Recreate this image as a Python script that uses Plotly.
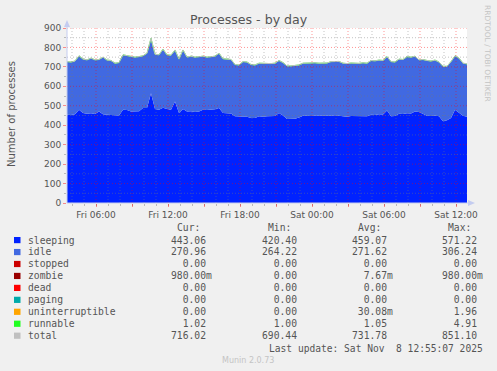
import plotly.graph_objects as go
from datetime import datetime, timedelta

# ---------------- data ----------------
start = datetime(2025, 11, 7, 3, 35)
times = [start + timedelta(minutes=20 * k) for k in range(101)]

sleeping = [454, 452, 456, 480, 463, 459, 462, 458, 471, 456,
            454, 452, 449, 450, 480, 478, 471, 470, 472, 488,
            488, 565, 483, 480, 490, 483, 480, 522, 463, 483,
            471, 472, 468, 471, 480, 478, 480, 482, 488, 463,
            462, 460, 446, 445, 446, 444, 437, 437, 446, 444,
            446, 445, 447, 463, 450, 432, 432, 433, 440, 449,
            449, 447, 450, 449, 448, 450, 449, 451, 449, 446,
            444, 447, 446, 445, 447, 446, 454, 453, 456, 455,
            476, 446, 447, 459, 458, 461, 460, 471, 468, 460,
            449, 448, 450, 446, 421, 426, 437, 480, 465, 449,
            443]

idle = [272, 272, 273, 276, 276, 276, 282, 277, 266, 293,
        280, 280, 269, 271, 281, 279, 281, 279, 280, 268,
        281, 277, 281, 281, 300, 278, 279, 264, 276, 302,
        278, 282, 281, 281, 274, 271, 271, 272, 281, 278,
        277, 277, 265, 264, 280, 280, 274, 272, 272, 273,
        273, 271, 271, 269, 271, 272, 272, 272, 269, 269,
        270, 270, 270, 269, 269, 269, 277, 274, 278, 272,
        272, 272, 272, 272, 273, 272, 278, 277, 278, 277,
        276, 280, 277, 280, 279, 290, 289, 283, 267, 277,
        283, 281, 284, 278, 281, 276, 289, 276, 279, 269,
        271]

runnable = [1, 1, 1, 1, 1, 1, 1, 1, 1, 1,
            1, 1, 1, 1, 1, 1, 1, 1, 1, 1,
            1, 5, 1, 1, 1, 1, 1, 1, 1, 2,
            1, 1, 1, 1, 1, 1, 1, 1, 1, 1,
            1, 1, 1, 1, 1, 1, 1, 1, 1, 1,
            1, 1, 1, 1, 1, 1, 1, 1, 1, 1,
            1, 1, 1, 1, 1, 1, 1, 1, 1, 1,
            1, 1, 1, 1, 1, 1, 1, 1, 1, 1,
            1, 1, 1, 1, 1, 2, 1, 1, 1, 1,
            1, 1, 1, 1, 1, 1, 1, 1, 1, 1,
            1]

total = [727, 725, 730, 757, 740, 736, 745, 736, 738, 750,
         735, 733, 719, 722, 762, 758, 753, 750, 753, 757,
         770, 847, 765, 762, 791, 762, 760, 787, 740, 787,
         750, 755, 750, 753, 755, 750, 752, 755, 770, 742,
         740, 738, 712, 710, 727, 725, 712, 710, 719, 718,
         720, 717, 719, 733, 722, 705, 705, 706, 710, 719,
         720, 718, 721, 719, 718, 720, 727, 726, 728, 719,
         717, 720, 719, 718, 721, 719, 733, 731, 735, 733,
         753, 727, 725, 740, 738, 753, 750, 755, 736, 738,
         733, 730, 735, 725, 703, 703, 727, 757, 745, 719,
         716]

legend_names = ["sleeping", "idle", "stopped", "zombie", "dead", "paging",
                "uninterruptible", "runnable", "total"]
legend_colors = ["#0022ff", "#4169e1", "#cc0000", "#990000", "#ff0000",
                 "#00aaaa", "#ffa500", "#22ff22", "#c0c0c0"]
cur_vals = ["443.06", "270.96", "  0.00", "980.00m", "  0.00", "  0.00", "  0.00", "  1.02", "716.02"]
min_vals = ["420.40", "264.22", "  0.00", "  0.00", "  0.00", "  0.00", "  0.00", "  1.00", "690.44"]
avg_vals = ["459.07", "271.62", "  0.00", "  7.67m", "  0.00", "  0.00", " 30.08m", "  1.05", "731.78"]
max_vals = ["571.22", "306.24", "  0.00", "980.00m", "  0.00", "  0.00", "  1.96", "  4.91", "851.10"]

x_ticks = ["2025-11-07 06:00", "2025-11-07 09:00", "2025-11-07 12:00", "2025-11-07 15:00",
           "2025-11-07 18:00", "2025-11-07 21:00", "2025-11-08 00:00", "2025-11-08 03:00",
           "2025-11-08 06:00", "2025-11-08 09:00", "2025-11-08 12:00"]
x_ticktext = ["Fri 06:00", "", "Fri 12:00", "", "Fri 18:00", "", "Sat 00:00", "",
              "Sat 06:00", "", "Sat 12:00"]
y_ticks = [0, 100, 200, 300, 400, 500, 600, 700, 800, 900]
y_minor = [50, 150, 250, 350, 450, 550, 650, 750, 850]

# ---------------- layout geometry ----------------
W, H = 497, 371
L, R, T, B = 67, 467, 28, 203
PW, PH = R - L, B - T


def px(x):
    return (x - L) / PW


def py(y):
    return (B - y) / PH


TXT = "#555555"
MONO = "DejaVu Sans Mono"
SANS = "DejaVu Sans"
MAJ = "rgba(255,0,0,0.42)"
MIN = "rgba(120,120,120,0.45)"
AXC = "#c4ccf0"
LEG = 9.7

fig = go.Figure()
fig.add_trace(go.Scatter(x=times, y=sleeping, stackgroup="s", mode="lines",
                         line=dict(width=0, color="#0022ff"), fillcolor="#0022ff",
                         hoverinfo="skip"))
fig.add_trace(go.Scatter(x=times, y=idle, stackgroup="s", mode="lines",
                         line=dict(width=0, color="#4169e1"), fillcolor="#4169e1",
                         hoverinfo="skip"))
fig.add_trace(go.Scatter(x=times, y=runnable, stackgroup="s", mode="lines",
                         line=dict(width=0.8, color="#22ff22"), fillcolor="#22ff22",
                         hoverinfo="skip"))
fig.add_trace(go.Scatter(x=times, y=total, mode="lines",
                         line=dict(width=1, color="#c0c0c0"), hoverinfo="skip"))

shapes = []
# grid lines drawn above the areas (as rrdtool does)
for v in y_minor:
    shapes.append(dict(type="line", xref="paper", yref="y", x0=0, x1=1, y0=v, y1=v,
                       line=dict(color=MIN, width=1, dash="1px,2px"), layer="above"))
for v in y_ticks[1:]:
    shapes.append(dict(type="line", xref="paper", yref="y", x0=0, x1=1, y0=v, y1=v,
                       line=dict(color=MAJ, width=1, dash="1px,2px"), layer="above"))
hour0 = datetime(2025, 11, 7, 4, 0)
for h in range(33):
    t = hour0 + timedelta(hours=h)
    if t.hour % 3 == 0:
        continue
    shapes.append(dict(type="line", xref="x", yref="paper", x0=t, x1=t, y0=0, y1=1,
                       line=dict(color=MIN, width=1, dash="1px,2px"), layer="above"))
for t in x_ticks:
    shapes.append(dict(type="line", xref="x", yref="paper", x0=t, x1=t, y0=0, y1=1,
                       line=dict(color=MAJ, width=1, dash="1px,2px"), layer="above"))

# axis lines and arrows
shapes.append(dict(type="line", xref="paper", yref="paper", x0=0, x1=0, y0=0, y1=py(22),
                   line=dict(color=AXC, width=1), layer="above"))
shapes.append(dict(type="line", xref="paper", yref="paper", x0=0, x1=px(471), y0=0, y1=0,
                   line=dict(color=AXC, width=1), layer="above"))
shapes.append(dict(type="path", xref="paper", yref="paper",
                   path=f"M {px(64)},{py(27)} L {px(70)},{py(27)} L {px(67)},{py(20)} Z",
                   fillcolor=AXC, line=dict(width=0), layer="above"))
shapes.append(dict(type="path", xref="paper", yref="paper",
                   path=f"M {px(468)},{py(200)} L {px(468)},{py(206)} L {px(475)},{py(203)} Z",
                   fillcolor=AXC, line=dict(width=0), layer="above"))

annotations = []


def ann(text, x, y, size=LEG, font=MONO, color=TXT, xanchor="left", angle=0):
    annotations.append(dict(text=text, x=px(x), y=py(y), xref="paper", yref="paper",
                            showarrow=False, xanchor=xanchor, yanchor="middle",
                            borderpad=0, textangle=angle,
                            font=dict(family=font, size=size, color=color)))


def nb(s):
    return s.replace(" ", "\u00a0")


ann("Processes - by day", 248.5, 20, size=12.6, font=SANS, xanchor="center")
ann("Number of processes", 11, 114, size=10, font=SANS, xanchor="center", angle=-90)
ann("RRDTOOL / TOBI OETIKER", 488, 53, size=7.5, font=SANS, color="#c4c4c4",
    xanchor="center", angle=90)
ann("Munin 2.0.73", 248, 360, size=8, font=SANS, color="#c4c4c4", xanchor="center")

cols = [170, 261, 351, 441]
heads = ["Cur:", "Min:", "Avg:", "Max:"]
for cx, hd in zip(cols, heads):
    ann(hd, cx + 6, 227)

row_y0, row_dy = 240, 11.95
for i, (name, col) in enumerate(zip(legend_names, legend_colors)):
    yy = row_y0 + i * row_dy
    shapes.append(dict(type="rect", xref="paper", yref="paper",
                       x0=px(14), x1=px(20.5), y0=py(yy - 3), y1=py(yy + 3.2),
                       fillcolor=col, line=dict(width=0)))
    ann(name, 26.5, yy)
    for cx, vals in zip(cols, [cur_vals, min_vals, avg_vals, max_vals]):
        ann(nb(vals[i]), cx, yy)

ann(nb("Last update: Sat Nov  8 12:55:07 2025"), 483.5, 348, size=9.6, xanchor="right")

fig.update_layout(
    width=W, height=H,
    margin=dict(l=L, r=W - R, t=T, b=H - B),
    paper_bgcolor="#f0f0f0", plot_bgcolor="#ffffff",
    showlegend=False,
    shapes=shapes, annotations=annotations,
    xaxis=dict(type="date", range=[times[0], times[-1]],
               tickmode="array", tickvals=x_ticks, ticktext=x_ticktext,
               showgrid=False, zeroline=False, showline=False,
               ticks="outside", ticklen=3, tickcolor=MAJ, tickwidth=1,
               tickfont=dict(family=SANS, size=9, color=TXT),
               minor=dict(dtick=3600000, tick0="2025-11-07 04:00", ticks="outside",
                          ticklen=2, tickcolor=MIN, showgrid=False),
               fixedrange=True),
    yaxis=dict(range=[0, 900], tickmode="array", tickvals=y_ticks,
               showgrid=False, zeroline=False, showline=False,
               ticks="outside", ticklen=3, tickcolor=MAJ, tickwidth=1,
               tickfont=dict(family=SANS, size=9, color=TXT),
               minor=dict(tickvals=y_minor, ticks="outside", ticklen=2,
                          tickcolor=MIN, showgrid=False),
               fixedrange=True),
)

fig.write_html("out.html", config=dict(displayModeBar=False),
               post_script="document.body.style.margin='0';document.body.style.background='#f0f0f0';document.body.style.overflow='hidden';")
